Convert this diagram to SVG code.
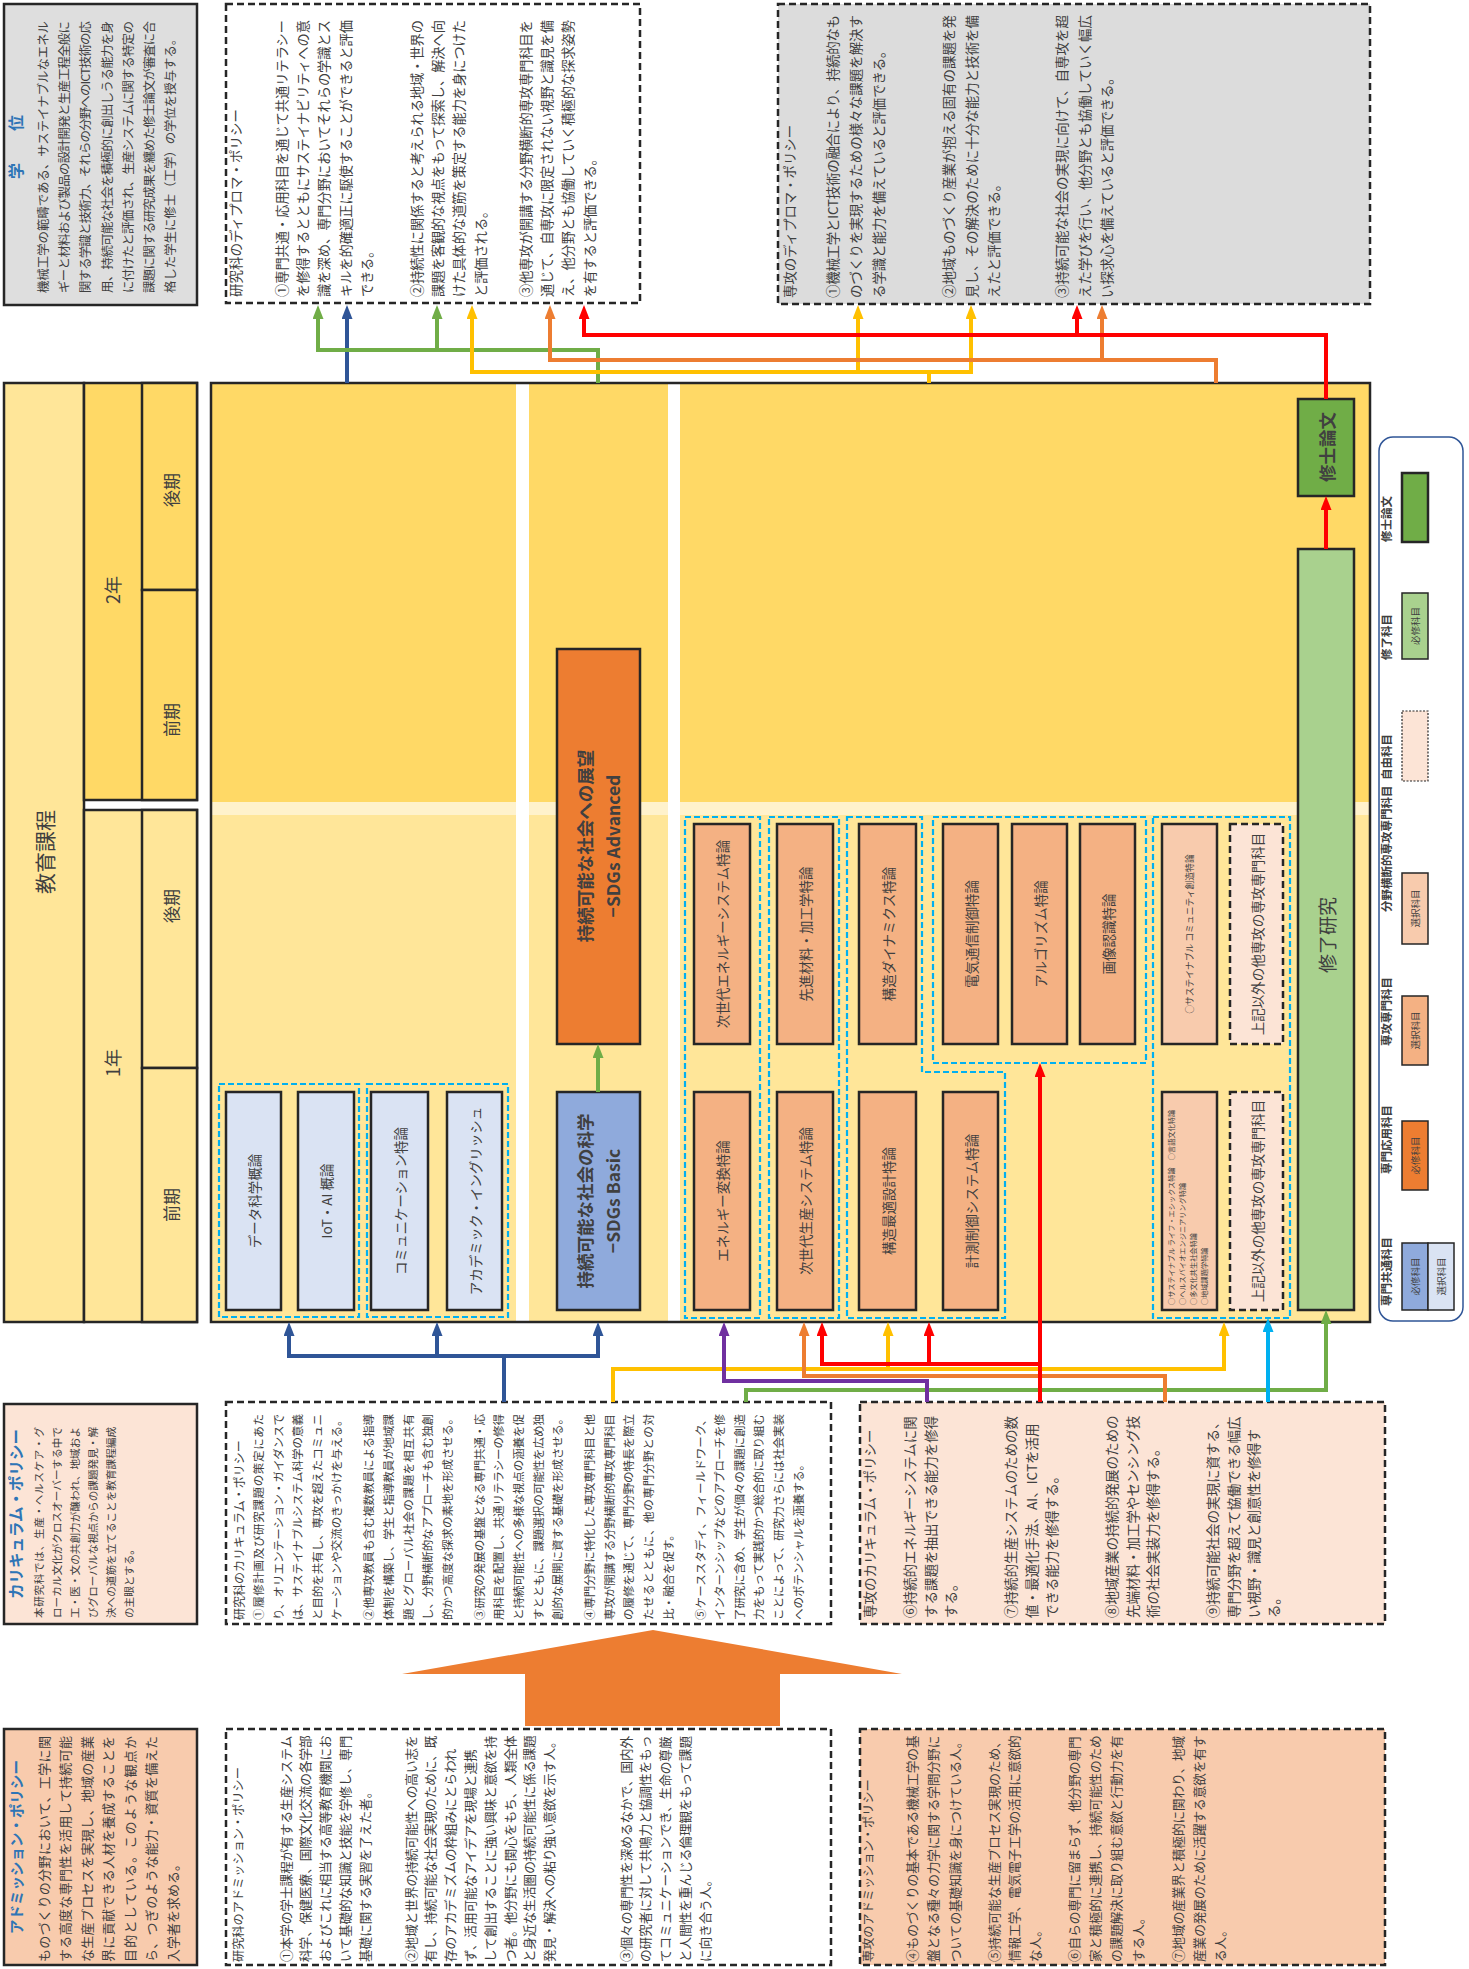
<svg xmlns="http://www.w3.org/2000/svg" width="1469" height="1969" viewBox="0 0 1469 1969">
<style>
text{font-family:'Noto Sans CJK JP','Noto Sans',sans-serif;fill:#404040;}
.b{stroke:#262626;stroke-width:2.5;}
.d{stroke:#262626;stroke-width:2.5;stroke-dasharray:7 4;}
.g{fill:none;stroke:#00b0f0;stroke-width:2.2;stroke-dasharray:6 3;}
.ttl{font-weight:bold;fill:#2e75b6;}
.lbl{text-anchor:middle;dominant-baseline:central;}
.p{dominant-baseline:central;}
.c{fill:none;stroke-width:4;}
.cb{fill:#f4b183;}
</style>
<defs>
<marker id="aB" viewBox="0 0 14 11" markerWidth="14" markerHeight="11" markerUnits="userSpaceOnUse" refX="2" refY="5.5" orient="auto"><path d="M0,0L14,5.5L0,11z" fill="#2f5597"/></marker>
<marker id="aG" viewBox="0 0 14 11" markerWidth="14" markerHeight="11" markerUnits="userSpaceOnUse" refX="2" refY="5.5" orient="auto"><path d="M0,0L14,5.5L0,11z" fill="#70ad47"/></marker>
<marker id="aY" viewBox="0 0 14 11" markerWidth="14" markerHeight="11" markerUnits="userSpaceOnUse" refX="2" refY="5.5" orient="auto"><path d="M0,0L14,5.5L0,11z" fill="#ffc000"/></marker>
<marker id="aO" viewBox="0 0 14 11" markerWidth="14" markerHeight="11" markerUnits="userSpaceOnUse" refX="2" refY="5.5" orient="auto"><path d="M0,0L14,5.5L0,11z" fill="#ed7d31"/></marker>
<marker id="aR" viewBox="0 0 14 11" markerWidth="14" markerHeight="11" markerUnits="userSpaceOnUse" refX="2" refY="5.5" orient="auto"><path d="M0,0L14,5.5L0,11z" fill="#ff0000"/></marker>
<marker id="aP" viewBox="0 0 14 11" markerWidth="14" markerHeight="11" markerUnits="userSpaceOnUse" refX="2" refY="5.5" orient="auto"><path d="M0,0L14,5.5L0,11z" fill="#7030a0"/></marker>
<marker id="aL" viewBox="0 0 14 11" markerWidth="14" markerHeight="11" markerUnits="userSpaceOnUse" refX="2" refY="5.5" orient="auto"><path d="M0,0L14,5.5L0,11z" fill="#00b0f0"/></marker>
</defs>
<rect width="1469" height="1969" fill="#ffffff"/>

<!-- 学位 -->
<g id="degree">
<rect x="4" y="4" width="193" height="301" fill="#dedede" class="b"/>
<g transform="translate(4,305) rotate(-90)" font-size="12.4">
<text x="158" y="11" class="lbl ttl" font-size="16">学　　位</text>
<text x="12" y="39" class="p" textLength="272">機械工学の範疇である、サステイナブルなエネル</text>
<text x="12" y="60.2" class="p" textLength="272">ギーと材料および製品の設計開発と生産工程全般に</text>
<text x="12" y="81.4" class="p" textLength="272">関する学識と技術力、それらの分野へのICT技術の応</text>
<text x="12" y="102.6" class="p" textLength="272">用、持続可能な社会を積極的に創出しうる能力を身</text>
<text x="12" y="123.8" class="p" textLength="272">に付けたと評価され、生産システムに関する特定の</text>
<text x="12" y="145" class="p" textLength="272">課題に関する研究成果を纏めた修士論文が審査に合</text>
<text x="12" y="166.2" class="p">格した学生に修士（工学）の学位を授与する。</text>
</g>
</g>

<!-- 研究科DP -->
<g id="dp-grad">
<rect x="226" y="4" width="414" height="299" fill="#ffffff" class="d"/>
<g transform="translate(226,303) rotate(-90)" font-size="13.2">
<text x="6" y="9" class="p" font-size="13.5">研究科のディプロマ・ポリシー</text>
<text x="6" y="55" class="p" textLength="277">①専門共通・応用科目を通じて共通リテラシー</text>
<text x="6" y="76.4" class="p" textLength="277">を修得するとともにサステイナビリティへの意</text>
<text x="6" y="97.8" class="p" textLength="277">識を深め、専門分野においてそれらの学識とス</text>
<text x="6" y="119.2" class="p" textLength="277">キルを的確適正に駆使することができると評価</text>
<text x="6" y="140.6" class="p">できる。</text>
<text x="6" y="190" class="p" textLength="277">②持続性に関係すると考えられる地域・世界の</text>
<text x="6" y="211.4" class="p" textLength="277">課題を客観的な視点をもって探索し、解決へ向</text>
<text x="6" y="232.8" class="p" textLength="277">けた具体的な道筋を策定する能力を身につけた</text>
<text x="6" y="254.2" class="p">と評価される。</text>
<text x="6" y="299" class="p" textLength="277">③他専攻が開講する分野横断的専攻専門科目を</text>
<text x="6" y="320.4" class="p" textLength="277">通じて、自専攻に限定されない視野と識見を備</text>
<text x="6" y="341.8" class="p" textLength="277">え、他分野とも協働していく積極的な探求姿勢</text>
<text x="6" y="363.2" class="p">を有すると評価できる。</text>
</g>
</g>

<!-- 専攻DP -->
<g id="dp-major">
<rect x="778" y="4" width="592" height="300" fill="#dcdcdc" class="d"/>
<g transform="translate(778,304) rotate(-90)" font-size="13.4">
<text x="6" y="11" class="p">専攻のディプロマ・ポリシー</text>
<text x="6" y="54" class="p" textLength="283">①機械工学とICT技術の融合により、持続的なも</text>
<text x="6" y="77" class="p" textLength="283">のづくりを実現するための様々な課題を解決す</text>
<text x="6" y="100" class="p">る学識と能力を備えていると評価できる。</text>
<text x="6" y="170" class="p" textLength="283">②地域ものづくり産業が抱える固有の課題を発</text>
<text x="6" y="193" class="p" textLength="283">見し、その解決のために十分な能力と技術を備</text>
<text x="6" y="215" class="p">えたと評価できる。</text>
<text x="6" y="283" class="p" textLength="283">③持続可能な社会の実現に向けて、自専攻を超</text>
<text x="6" y="306" class="p" textLength="283">えた学びを行い、他分野とも協働していく幅広</text>
<text x="6" y="328" class="p">い探求心を備えていると評価できる。</text>
</g>
</g>

<!-- 教育課程 header -->
<g id="header">
<rect x="4" y="383" width="80" height="939" fill="#ffe699" class="b"/>
<rect x="84" y="383" width="113" height="417" fill="#ffd966" class="b"/>
<rect x="84" y="810" width="113" height="512" fill="#ffe699" class="b"/>
<rect x="142" y="383" width="55" height="207" fill="#ffd966" class="b"/>
<rect x="142" y="590" width="55" height="210" fill="#ffd966" class="b"/>
<rect x="142" y="810" width="55" height="258" fill="#ffe699" class="b"/>
<rect x="142" y="1068" width="55" height="254" fill="#ffe699" class="b"/>
<text class="lbl" font-size="21" transform="translate(44,852) rotate(-90)">教育課程</text>
<text class="lbl" font-size="18" transform="translate(112,590) rotate(-90)">2年</text>
<text class="lbl" font-size="18" transform="translate(112,1063) rotate(-90)">1年</text>
<text class="lbl" font-size="17" transform="translate(170,490) rotate(-90)">後期</text>
<text class="lbl" font-size="17" transform="translate(170,720) rotate(-90)">前期</text>
<text class="lbl" font-size="17" transform="translate(170,906) rotate(-90)">後期</text>
<text class="lbl" font-size="17" transform="translate(170,1205) rotate(-90)">前期</text>
</g>

<!-- main block background -->
<g id="main-bg">
<rect x="211" y="383" width="1159" height="419" fill="#ffd966"/>
<rect x="211" y="802" width="1159" height="13" fill="#fff2cc"/>
<rect x="211" y="815" width="1159" height="507" fill="#ffe699"/>
<rect x="516" y="383" width="13" height="939" fill="#ffffff"/>
<rect x="668" y="383" width="12" height="939" fill="#ffffff"/>
<rect x="211" y="383" width="1159" height="939" fill="none" class="b"/>
</g>

<!-- groups (dashed blue) -->
<g id="course-groups">
<rect x="219" y="1084" width="140" height="233" class="g"/>
<rect x="367" y="1084" width="141" height="233" class="g"/>
<rect x="685" y="817" width="75" height="501" class="g"/>
<rect x="769" y="817" width="70" height="501" class="g"/>
<path d="M847,817H922V1072H1005V1318H847Z" class="g"/>
<rect x="933" y="817" width="213" height="246" class="g"/>
<rect x="1153" y="817" width="137" height="501" class="g"/>
</g>

<!-- course nodes -->
<g id="n-data"><rect x="226" y="1092" width="55" height="218" fill="#dae3f3" class="b"/><text class="lbl" font-size="13.5" transform="translate(253.5,1201) rotate(-90)">データ科学概論</text></g>
<g id="n-iot"><rect x="298" y="1092" width="56" height="218" fill="#dae3f3" class="b"/><text class="lbl" font-size="13.5" transform="translate(326,1201) rotate(-90)">IoT・AI 概論</text></g>
<g id="n-comm"><rect x="371" y="1092" width="57" height="218" fill="#dae3f3" class="b"/><text class="lbl" font-size="13.5" transform="translate(399.5,1201) rotate(-90)">コミュニケーション特論</text></g>
<g id="n-acad"><rect x="447" y="1092" width="55" height="218" fill="#dae3f3" class="b"/><text class="lbl" font-size="13.5" transform="translate(474.5,1201) rotate(-90)">アカデミック・イングリッシュ</text></g>
<g id="n-sdgs-basic"><rect x="557" y="1092" width="83" height="218" fill="#8faadc" class="b"/>
<text class="lbl" font-size="17.5" font-weight="bold" fill="#262626" transform="translate(584,1201) rotate(-90)">持続可能な社会の科学</text>
<text class="lbl" font-size="17.5" font-weight="bold" fill="#262626" transform="translate(612,1201) rotate(-90)">−SDGs Basic</text></g>
<g id="n-sdgs-adv"><rect x="557" y="649" width="83" height="395" fill="#ed7d31" class="b"/>
<text class="lbl" font-size="17.5" font-weight="bold" fill="#262626" transform="translate(584,846) rotate(-90)">持続可能な社会への展望</text>
<text class="lbl" font-size="17.5" font-weight="bold" fill="#262626" transform="translate(612,846) rotate(-90)">−SDGs Advanced</text></g>

<g id="n-energy2"><rect x="694" y="824" width="56" height="220" class="b cb"/><text class="lbl" font-size="13.5" transform="translate(722,934) rotate(-90)">次世代エネルギーシステム特論</text></g>
<g id="n-material"><rect x="777" y="824" width="56" height="220" class="b cb"/><text class="lbl" font-size="13.5" transform="translate(805,934) rotate(-90)">先進材料・加工学特論</text></g>
<g id="n-dynamics"><rect x="859" y="824" width="57" height="220" class="b cb"/><text class="lbl" font-size="13.5" transform="translate(887.5,934) rotate(-90)">構造ダイナミクス特論</text></g>
<g id="n-telecom"><rect x="943" y="824" width="55" height="220" class="b cb"/><text class="lbl" font-size="13.5" transform="translate(970.5,934) rotate(-90)">電気通信制御特論</text></g>
<g id="n-algo"><rect x="1012" y="824" width="55" height="220" class="b cb"/><text class="lbl" font-size="13.5" transform="translate(1039.5,934) rotate(-90)">アルゴリズム特論</text></g>
<g id="n-image"><rect x="1080" y="824" width="55" height="220" class="b cb"/><text class="lbl" font-size="13.5" transform="translate(1107.5,934) rotate(-90)">画像認識特論</text></g>
<g id="n-community"><rect x="1162" y="824" width="55" height="220" fill="#f8cbad" class="b"/><text class="lbl" font-size="8.8" transform="translate(1189.5,934) rotate(-90)">○サステイナブル コミュニティ創造特論</text></g>
<g id="n-other-up"><rect x="1230" y="824" width="53" height="220" fill="#fce4d6" class="d"/><text class="lbl" font-size="13.5" transform="translate(1256.5,934) rotate(-90)">上記以外の他専攻の専攻専門科目</text></g>

<g id="n-energy"><rect x="694" y="1092" width="56" height="218" class="b cb"/><text class="lbl" font-size="13.5" transform="translate(722,1201) rotate(-90)">エネルギー変換特論</text></g>
<g id="n-production"><rect x="777" y="1092" width="56" height="218" class="b cb"/><text class="lbl" font-size="13.5" transform="translate(805,1201) rotate(-90)">次世代生産システム特論</text></g>
<g id="n-optimal"><rect x="859" y="1092" width="57" height="218" class="b cb"/><text class="lbl" font-size="13.5" transform="translate(887.5,1201) rotate(-90)">構造最適設計特論</text></g>
<g id="n-measure"><rect x="943" y="1092" width="55" height="218" class="b cb"/><text class="lbl" font-size="13.5" transform="translate(970.5,1201) rotate(-90)">計測制御システム特論</text></g>
<g id="n-cross"><rect x="1162" y="1092" width="55" height="218" fill="#f8cbad" class="b"/>
<g transform="translate(1162,1310) rotate(-90)" font-size="7.2">
<text x="5" y="9" class="p">○サステイナブル ライフ・エシックス特論　○言語文化特論</text>
<text x="5" y="20" class="p">○ヘルスバイオエンジニアリング特論</text>
<text x="5" y="31" class="p">○多文化共生社会特論</text>
<text x="5" y="42" class="p">○地域課題学特論</text>
</g></g>
<g id="n-other-low"><rect x="1230" y="1092" width="53" height="218" fill="#fce4d6" class="d"/><text class="lbl" font-size="13.5" transform="translate(1256.5,1201) rotate(-90)">上記以外の他専攻の専攻専門科目</text></g>

<g id="n-research"><rect x="1298" y="549" width="56" height="761" fill="#a9d18e" class="b"/><text class="lbl" font-size="19" transform="translate(1326,935) rotate(-90)">修了研究</text></g>
<g id="n-thesis"><rect x="1298" y="399" width="56" height="97" fill="#70ad47" class="b"/><text class="lbl" font-size="17.5" font-weight="bold" fill="#262626" transform="translate(1326,447) rotate(-90)">修士論文</text></g>

<!-- legend -->
<g id="legend">
<rect x="1379" y="437" width="84" height="884" rx="14" fill="#ffffff" stroke="#2f5597" stroke-width="1.5"/>
<g font-size="11.5" font-weight="bold" fill="#262626">
<text class="p" transform="translate(1386,542) rotate(-90)">修士論文</text>
<text class="p" transform="translate(1386,660) rotate(-90)">修了科目</text>
<text class="p" transform="translate(1386,780) rotate(-90)">自由科目</text>
<text class="p" transform="translate(1386,912) rotate(-90)">分野横断的専攻専門科目</text>
<text class="p" transform="translate(1386,1046) rotate(-90)">専攻専門科目</text>
<text class="p" transform="translate(1386,1174) rotate(-90)">専門応用科目</text>
<text class="p" transform="translate(1386,1306) rotate(-90)">専門共通科目</text>
</g>
<rect x="1402" y="473" width="26" height="69" fill="#70ad47" class="b" stroke-width="1.5"/>
<rect x="1402" y="593" width="26" height="66" fill="#a9d18e" stroke="#262626" stroke-width="1.5"/>
<text class="lbl" font-size="9.5" fill="#555" transform="translate(1415,626) rotate(-90)">必修科目</text>
<rect x="1402" y="711" width="26" height="70" fill="#fce4d6" stroke="#262626" stroke-width="1.2" stroke-dasharray="2 1.5"/>
<rect x="1402" y="873" width="26" height="71" fill="#f8cbad" stroke="#262626" stroke-width="1.5"/>
<text class="lbl" font-size="9.5" fill="#555" transform="translate(1415,908.5) rotate(-90)">選択科目</text>
<rect x="1402" y="996" width="26" height="69" fill="#f4b183" stroke="#262626" stroke-width="1.5"/>
<text class="lbl" font-size="9.5" fill="#555" transform="translate(1415,1030.5) rotate(-90)">選択科目</text>
<rect x="1402" y="1121" width="26" height="69" fill="#ed7d31" stroke="#262626" stroke-width="1.5"/>
<text class="lbl" font-size="9.5" fill="#555" transform="translate(1415,1155.5) rotate(-90)">必修科目</text>
<rect x="1402" y="1243" width="26" height="67" fill="#8faadc" stroke="#262626" stroke-width="1.5"/>
<text class="lbl" font-size="9.5" fill="#555" transform="translate(1415,1276.5) rotate(-90)">必修科目</text>
<rect x="1428" y="1243" width="26" height="67" fill="#dae3f3" stroke="#262626" stroke-width="1.5"/>
<text class="lbl" font-size="9.5" fill="#555" transform="translate(1441,1276.5) rotate(-90)">選択科目</text>
</g>

<!-- カリキュラム・ポリシー -->
<g id="cp">
<rect x="4" y="1404" width="193" height="220" fill="#fce4d6" class="b"/>
<g transform="translate(4,1624) rotate(-90)" font-size="10.6">
<text x="110" y="11" class="lbl ttl" font-size="15.5">カリキュラム・ポリシー</text>
<text x="6" y="34" class="p" textLength="191">本研究科では、生産・ヘルスケア・グ</text>
<text x="6" y="52" class="p" textLength="191">ローカル文化がクロスオーバーする中で</text>
<text x="6" y="70" class="p" textLength="191">工・医・文の共創力が醸われ、地域およ</text>
<text x="6" y="88" class="p" textLength="191">びグローバルな視点からの課題発見・解</text>
<text x="6" y="106" class="p" textLength="191">決への道筋を立てることを教育課程編成</text>
<text x="6" y="124" class="p">の主眼とする。</text>
</g>
</g>

<g id="cp-grad">
<rect x="226" y="1402" width="605" height="222" fill="#ffffff" class="d"/>
<g transform="translate(226,1624) rotate(-90)" font-size="11.5">
<text x="4" y="12" class="p" font-size="12">研究科のカリキュラム・ポリシー</text>
<text x="4" y="32" class="p" textLength="206">①履修計画及び研究課題の策定にあた</text>
<text x="4" y="51.6" class="p" textLength="206">り、オリエンテーション・ガイダンスで</text>
<text x="4" y="71.2" class="p" textLength="206">は、サステイナブルシステム科学の意義</text>
<text x="4" y="90.8" class="p" textLength="206">と目的を共有し、専攻を超えたコミュニ</text>
<text x="4" y="110.4" class="p">ケーションや交流のきっかけを与える。</text>
<text x="4" y="142.4" class="p" textLength="206">②他専攻教員も含む複数教員による指導</text>
<text x="4" y="162" class="p" textLength="206">体制を構築し、学生と指導教員が地域課</text>
<text x="4" y="181.6" class="p" textLength="206">題とグローバル社会の課題を相互共有</text>
<text x="4" y="201.2" class="p" textLength="206">し、分野横断的なアプローチも含む独創</text>
<text x="4" y="220.8" class="p">的かつ高度な探求の素地を形成させる。</text>
<text x="4" y="252.8" class="p" textLength="206">③研究の発展の基盤となる専門共通・応</text>
<text x="4" y="272.4" class="p" textLength="206">用科目を配置し、共通リテラシーの修得</text>
<text x="4" y="292" class="p" textLength="206">と持続可能性への多様な視点の涵養を促</text>
<text x="4" y="311.6" class="p" textLength="206">すとともに、課題選択の可能性を広め独</text>
<text x="4" y="331.2" class="p">創的な展開に資する基礎を形成させる。</text>
<text x="4" y="363.2" class="p" textLength="206">④専門分野に特化した専攻専門科目と他</text>
<text x="4" y="382.8" class="p" textLength="206">専攻が開講する分野横断的専攻専門科目</text>
<text x="4" y="402.4" class="p" textLength="206">の履修を通じて、専門分野の特長を際立</text>
<text x="4" y="422" class="p" textLength="206">たせるとともに、他の専門分野との対</text>
<text x="4" y="441.6" class="p">比・融合を促す。</text>
<text x="4" y="473.6" class="p" textLength="206">⑤ケーススタディ、フィールドワーク、</text>
<text x="4" y="493.2" class="p" textLength="206">インターンシップなどのアプローチを修</text>
<text x="4" y="512.8" class="p" textLength="206">了研究に含め、学生が個々の課題に創造</text>
<text x="4" y="532.4" class="p" textLength="206">力をもって実践的かつ総合的に取り組む</text>
<text x="4" y="552" class="p" textLength="206">ことによって、研究力さらには社会実装</text>
<text x="4" y="571.6" class="p">へのポテンシャルを涵養する。</text>
</g>
</g>

<g id="cp-major">
<rect x="860" y="1402" width="525" height="222" fill="#fce4d6" class="d"/>
<g transform="translate(860,1624) rotate(-90)" font-size="13.5">
<text x="6" y="9" class="p">専攻のカリキュラム・ポリシー</text>
<text x="6" y="49.4" class="p">⑥持続的エネルギーシステムに関</text>
<text x="6" y="69.6" class="p">する課題を抽出できる能力を修得</text>
<text x="6" y="89.8" class="p">する。</text>
<text x="6" y="150.4" class="p">⑦持続的生産システムのための数</text>
<text x="6" y="170.6" class="p">値・最適化手法、AI、ICTを活用</text>
<text x="6" y="190.8" class="p">できる能力を修得する。</text>
<text x="6" y="251.4" class="p">⑧地域産業の持続的発展のための</text>
<text x="6" y="271.6" class="p">先端材料・加工学やセンシング技</text>
<text x="6" y="291.8" class="p">術の社会実装力を修得する。</text>
<text x="6" y="352.4" class="p">⑨持続可能社会の実現に資する、</text>
<text x="6" y="372.6" class="p">専門分野を超えて協働できる幅広</text>
<text x="6" y="392.8" class="p">い視野・識見と創意性を修得す</text>
<text x="6" y="413" class="p">る。</text>
</g>
</g>

<!-- アドミッション・ポリシー -->
<g id="ap">
<rect x="4" y="1729" width="193" height="236" fill="#f8cbad" class="b"/>
<g transform="translate(4,1965) rotate(-90)" font-size="13">
<text x="118" y="11" class="lbl ttl" font-size="14.5">アドミッション・ポリシー</text>
<text x="3" y="39" class="p" textLength="226">ものづくりの分野において、工学に関</text>
<text x="3" y="60.5" class="p" textLength="226">する高度な専門性を活用して持続可能</text>
<text x="3" y="82" class="p" textLength="226">な生産プロセスを実現し、地域の産業</text>
<text x="3" y="103.5" class="p" textLength="226">界に貢献できる人材を養成することを</text>
<text x="3" y="125" class="p" textLength="226">目的としている。このような観点か</text>
<text x="3" y="146.5" class="p" textLength="226">ら、つぎのような能力・資質を備えた</text>
<text x="3" y="168" class="p">入学者を求める。</text>
</g>
</g>

<g id="ap-grad">
<rect x="226" y="1729" width="605" height="236" fill="#ffffff" class="d"/>
<g transform="translate(226,1965) rotate(-90)" font-size="12.6">
<text x="3" y="12" class="p" font-size="12.2">研究科のアドミッション・ポリシー</text>
<text x="3" y="59" class="p">①本学の学士課程が有する生産システム</text>
<text x="3" y="78.8" class="p">科学、保健医療、国際文化交流の各学部</text>
<text x="3" y="98.6" class="p">およびこれに相当する高等教育機関にお</text>
<text x="3" y="118.4" class="p">いて基礎的な知識と技能を学修し、専門</text>
<text x="3" y="138.2" class="p">基礎に関する実習を了えた者。</text>
<text x="3" y="184" class="p">②地域と世界の持続可能性への高い志を</text>
<text x="3" y="203.8" class="p">有し、持続可能な社会実現のために、既</text>
<text x="3" y="223.6" class="p">存のアカデミズムの枠組みにとらわれ</text>
<text x="3" y="243.4" class="p">ず、活用可能なアイデアを現場と連携</text>
<text x="3" y="263.2" class="p">して創出することに強い興味と意欲を持</text>
<text x="3" y="283" class="p">つ者。他分野にも関心をもち、人類全体</text>
<text x="3" y="302.8" class="p">と身近な生活圏の持続可能性に係る課題</text>
<text x="3" y="322.6" class="p">発見・解決への粘り強い意欲を示す人。</text>
<text x="3" y="399" class="p">③個々の専門性を深めるなかで、国内外</text>
<text x="3" y="418.8" class="p">の研究者に対して共鳴力と協調性をもっ</text>
<text x="3" y="438.6" class="p">てコミュニケーションでき、生命の尊厳</text>
<text x="3" y="458.4" class="p">と人間性を重んじる倫理観をもって課題</text>
<text x="3" y="478.2" class="p">に向き合う人。</text>
</g>
</g>

<g id="ap-major">
<rect x="860" y="1729" width="525" height="236" fill="#f8cbad" class="d"/>
<g transform="translate(860,1965) rotate(-90)" font-size="12.6">
<text x="3" y="8" class="p" font-size="12.2">専攻のアドミッション・ポリシー</text>
<text x="3" y="51" class="p">④ものづくりの基本である機械工学の基</text>
<text x="3" y="72.5" class="p">盤となる種々の力学に関する学問分野に</text>
<text x="3" y="94" class="p">ついての基礎知識を身につけている人。</text>
<text x="3" y="133" class="p">⑤持続可能な生産プロセス実現のため、</text>
<text x="3" y="153.5" class="p">情報工学、電気電子工学の活用に意欲的</text>
<text x="3" y="174.5" class="p">な人。</text>
<text x="3" y="213.5" class="p">⑥自らの専門に留まらず、他分野の専門</text>
<text x="3" y="234.5" class="p">家と積極的に連携し、持続可能性のため</text>
<text x="3" y="255" class="p">の課題解決に取り組む意欲と行動力を有</text>
<text x="3" y="277" class="p">する人。</text>
<text x="3" y="317" class="p">⑦地域の産業界と積極的に関わり、地域</text>
<text x="3" y="338.5" class="p">産業の発展のために活躍する意欲を有す</text>
<text x="3" y="359" class="p">る人。</text>
</g>
</g>

<!-- big arrow -->
<polygon id="big-arrow" points="525,1726 525,1674 402,1674 653,1630 902,1674 780,1674 780,1726" fill="#ed7d31"/>

<!-- connectors -->
<g id="connectors">
<path d="M598,1092V1056" class="c" stroke="#70ad47" marker-end="url(#aG)"/>
<path d="M1326,549V508" class="c" stroke="#ff0000" marker-end="url(#aR)"/>
<path d="M347,383V317" class="c" stroke="#2f5597" marker-end="url(#aB)"/>
<path d="M598,383V350H318V317" class="c" stroke="#70ad47" marker-end="url(#aG)"/>
<path d="M437,350V317" class="c" stroke="#70ad47" marker-end="url(#aG)"/>
<path d="M929,383V372" class="c" stroke="#ffc000"/>
<path d="M929,372H472V317" class="c" stroke="#ffc000" marker-end="url(#aY)"/>
<path d="M929,372H971V317" class="c" stroke="#ffc000" marker-end="url(#aY)"/>
<path d="M858,372V317" class="c" stroke="#ffc000" marker-end="url(#aY)"/>
<path d="M1216,383V360H550V317" class="c" stroke="#ed7d31" marker-end="url(#aO)"/>
<path d="M1102,360V317" class="c" stroke="#ed7d31" marker-end="url(#aO)"/>
<path d="M1326,399V335H584V317" class="c" stroke="#ff0000" marker-end="url(#aR)"/>
<path d="M1077,335V317" class="c" stroke="#ff0000" marker-end="url(#aR)"/>
<path d="M504,1402V1356H289V1334" class="c" stroke="#2f5597" marker-end="url(#aB)"/>
<path d="M504,1356H598V1334" class="c" stroke="#2f5597" marker-end="url(#aB)"/>
<path d="M437,1356V1334" class="c" stroke="#2f5597" marker-end="url(#aB)"/>
<path d="M613,1402V1369H1224V1334" class="c" stroke="#ffc000" marker-end="url(#aY)"/>
<path d="M888,1369V1334" class="c" stroke="#ffc000" marker-end="url(#aY)"/>
<path d="M746,1402V1390H1326V1322" class="c" stroke="#70ad47" marker-end="url(#aG)"/>
<path d="M927,1402V1381H724V1334" class="c" stroke="#7030a0" marker-end="url(#aP)"/>
<path d="M1165,1402V1376H804V1334" class="c" stroke="#ed7d31" marker-end="url(#aO)"/>
<path d="M1040,1402V1075" class="c" stroke="#ff0000" marker-end="url(#aR)"/>
<path d="M1040,1364H822V1334" class="c" stroke="#ff0000" marker-end="url(#aR)"/>
<path d="M929,1364V1334" class="c" stroke="#ff0000" marker-end="url(#aR)"/>
<path d="M1268,1402V1330" class="c" stroke="#00b0f0" marker-end="url(#aL)"/>
</g>
</svg>
